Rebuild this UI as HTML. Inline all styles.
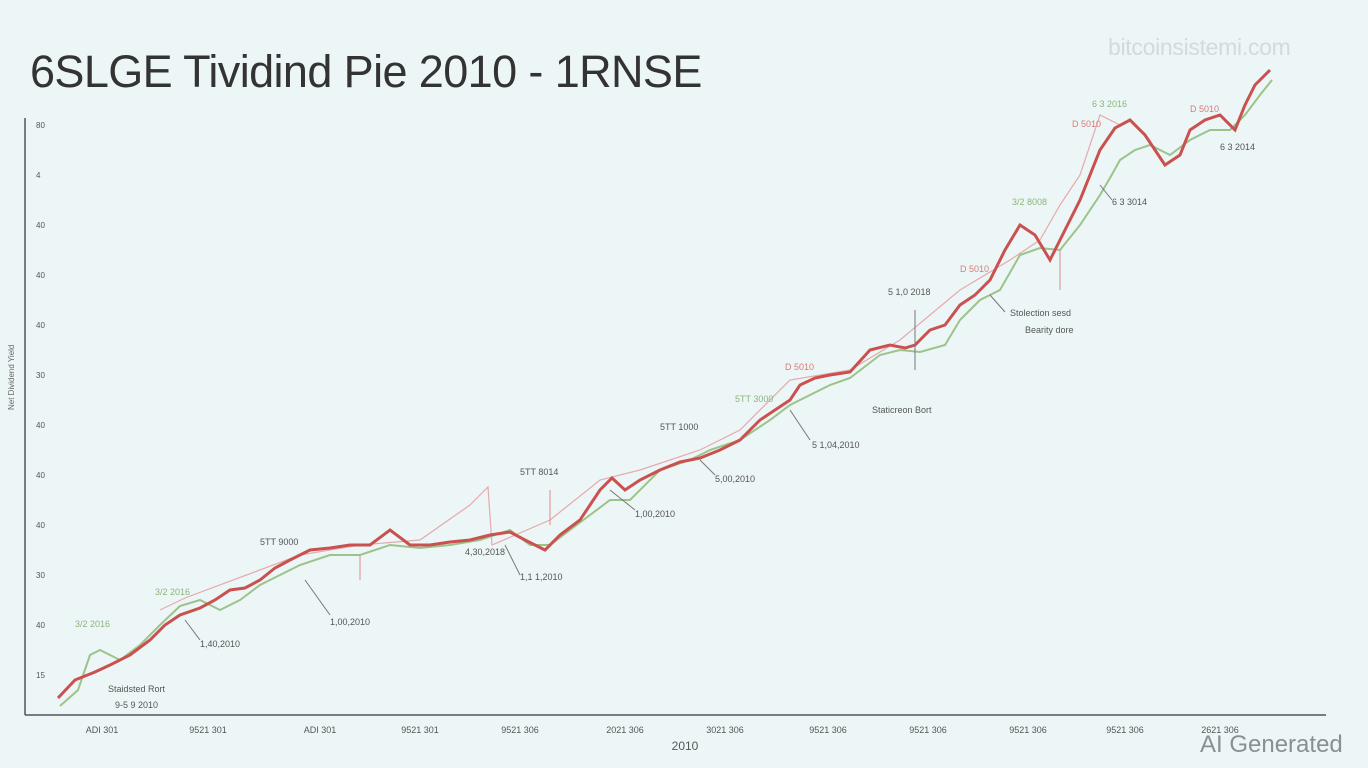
<!DOCTYPE html>
<html><head><meta charset="utf-8"><style>
html,body{margin:0;padding:0;background:#edf6f6;}
body{width:1368px;height:768px;overflow:hidden;position:relative;font-family:"Liberation Sans",sans-serif;}
.t{position:absolute;left:30px;top:46px;font-size:45px;color:#333;letter-spacing:-0.6px;}
.wm{position:absolute;left:1108px;top:34px;font-size:23px;color:#d3dadc;letter-spacing:-0.3px;}
.ai{position:absolute;left:1200px;top:731px;font-size:24px;color:#8a8f92;}
</style></head><body>
<div class="t">6SLGE Tividind Pie 2010 - 1RNSE</div>
<div class="wm">bitcoinsistemi.com</div>
<svg width="1368" height="768" style="position:absolute;left:0;top:0" font-family="Liberation Sans, sans-serif">
<g stroke="#555" stroke-width="1.5">
<line x1="25" y1="118" x2="25" y2="715"/>
<line x1="25" y1="715" x2="1326" y2="715"/>
</g>
<g font-size="8" fill="#555">
<text x="36" y="128">80</text><text x="36" y="178">4</text><text x="36" y="228">40</text><text x="36" y="278">40</text>
<text x="36" y="328">40</text><text x="36" y="378">30</text><text x="36" y="428">40</text><text x="36" y="478">40</text>
<text x="36" y="528">40</text><text x="36" y="578">30</text><text x="36" y="628">40</text><text x="36" y="678">15</text>
</g>
<text x="14" y="410" font-size="8" fill="#666" transform="rotate(-90 14 410)">Net Dividend Yield</text>
<g font-size="9" fill="#555" text-anchor="middle">
<text x="102" y="733">ADI 301</text><text x="208" y="733">9521 301</text><text x="320" y="733">ADI 301</text>
<text x="420" y="733">9521 301</text><text x="520" y="733">9521 306</text><text x="625" y="733">2021 306</text>
<text x="725" y="733">3021 306</text><text x="828" y="733">9521 306</text><text x="928" y="733">9521 306</text>
<text x="1028" y="733">9521 306</text><text x="1125" y="733">9521 306</text><text x="1220" y="733">2621 306</text>
</g>
<text x="685" y="750" font-size="12" fill="#555" text-anchor="middle">2010</text>
<polyline fill="none" stroke="#e6a9ad" stroke-width="1.2" points="160,610 185,598 300,555 360,545 420,540 470,505 488,487 492,545 550,520 600,480 640,470 700,450 740,430 790,380 850,370 900,340 960,290 1010,260 1040,240 1060,205 1080,175 1100,115 1120,125"/>
<polyline fill="none" stroke="#9cc38a" stroke-width="2" points="60,706 78,690 90,655 100,650 120,660 140,645 160,625 180,606 200,600 220,610 240,600 260,585 280,575 300,565 330,555 360,555 390,545 420,548 450,545 480,540 510,530 530,545 550,545 570,530 590,515 610,500 630,500 660,470 690,460 710,450 740,440 770,420 790,405 810,395 830,385 850,378 880,355 900,350 920,352 945,345 960,320 980,300 1000,290 1020,255 1040,248 1060,250 1080,225 1100,195 1110,178 1120,160 1135,150 1150,145 1170,155 1190,140 1210,130 1230,130 1245,115 1260,95 1272,80"/>
<polyline fill="none" stroke="#c9514f" stroke-width="3" points="58,698 75,680 95,672 110,665 130,655 150,640 165,625 180,615 200,608 215,600 230,590 245,588 260,580 275,568 290,560 310,550 330,548 350,545 370,545 390,530 410,545 430,545 450,542 470,540 490,535 510,532 525,540 545,550 560,535 580,520 600,490 612,478 625,490 640,480 660,470 680,462 700,458 720,450 740,440 760,420 775,410 790,400 800,385 815,378 830,375 850,372 870,350 890,345 905,348 915,345 930,330 945,325 960,305 975,295 990,280 1005,250 1020,225 1035,235 1050,260 1065,230 1080,200 1100,150 1115,128 1130,120 1145,135 1165,165 1180,155 1190,130 1205,120 1220,115 1235,130 1245,105 1255,85 1270,70"/>
<g stroke="#777" stroke-width="1">
<line x1="185" y1="620" x2="200" y2="640"/><line x1="305" y1="580" x2="330" y2="615"/><line x1="505" y1="545" x2="520" y2="575"/>
<line x1="610" y1="490" x2="635" y2="510"/><line x1="700" y1="460" x2="715" y2="475"/><line x1="790" y1="410" x2="810" y2="440"/>
<line x1="990" y1="295" x2="1005" y2="312"/><line x1="1100" y1="185" x2="1112" y2="200"/><line x1="915" y1="310" x2="915" y2="370"/>
<line x1="360" y1="555" x2="360" y2="580" stroke="#e08a8a"/><line x1="550" y1="490" x2="550" y2="525" stroke="#e08a8a"/>
<line x1="1060" y1="250" x2="1060" y2="290" stroke="#e08a8a"/>
</g>
<g font-size="9" fill="#555">
<text x="75" y="627" fill="#8bb57a">3/2 2016</text><text x="155" y="595" fill="#8bb57a">3/2 2016</text>
<text x="200" y="647">1,40,2010</text><text x="260" y="545">5TT 9000</text><text x="330" y="625">1,00,2010</text>
<text x="465" y="555">4,30,2018</text><text x="520" y="580">1,1 1,2010</text><text x="520" y="475">5TT 8014</text>
<text x="635" y="517">1,00,2010</text><text x="660" y="430">5TT 1000</text><text x="715" y="482">5,00,2010</text>
<text x="735" y="402" fill="#8bb57a">5TT 3000</text><text x="812" y="448">5 1,04,2010</text><text x="785" y="370" fill="#d87a7a">D 5010</text>
<text x="872" y="413">Staticreon Bort</text><text x="888" y="295">5 1,0 2018</text><text x="960" y="272" fill="#d87a7a">D 5010</text>
<text x="1010" y="316">Stolection sesd</text><text x="1025" y="333">Bearity dore</text><text x="1012" y="205" fill="#8bb57a">3/2 8008</text>
<text x="1112" y="205">6 3 3014</text><text x="1072" y="127" fill="#d87a7a">D 5010</text><text x="1092" y="107" fill="#8bb57a">6 3 2016</text>
<text x="1190" y="112" fill="#d87a7a">D 5010</text><text x="1220" y="150">6 3 2014</text>
<text x="108" y="692">Staidsted Rort</text><text x="115" y="708">9-5 9 2010</text>
</g>
</svg>
<div class="ai">AI Generated</div>
</body></html>
